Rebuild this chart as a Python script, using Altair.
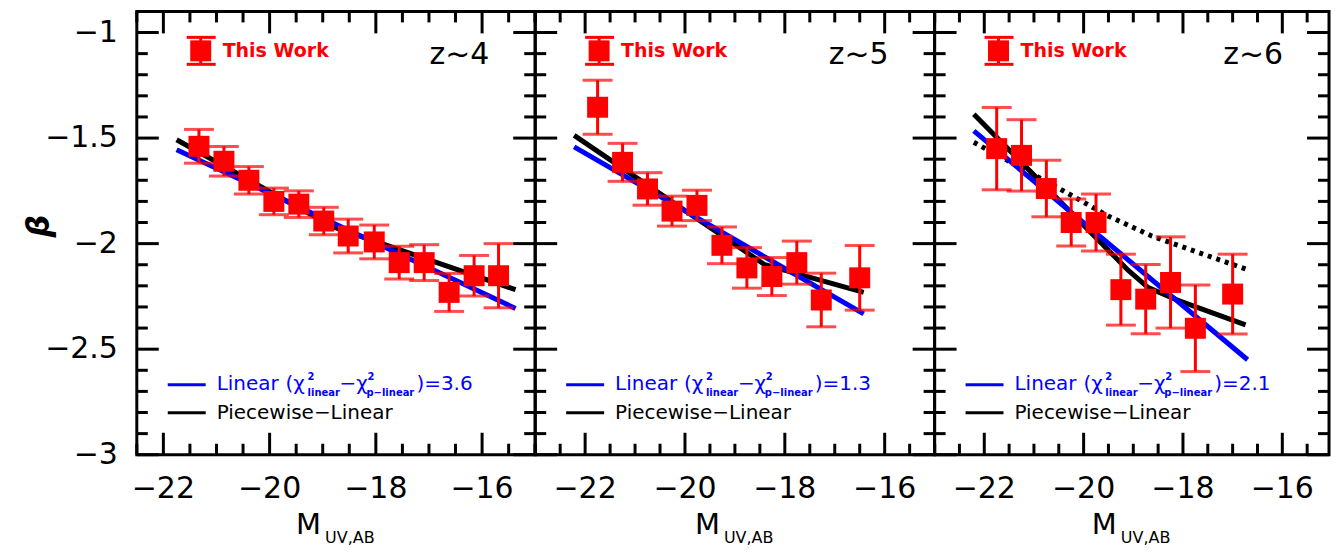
import altair as alt
import pandas as pd

# ---------------- data ----------------
# z~4
M4 = [-21.33, -20.86, -20.39, -19.92, -19.45, -18.98, -18.52, -18.03, -17.56, -17.09, -16.62, -16.15, -15.69]
B4 = [-1.539, -1.610, -1.700, -1.800, -1.813, -1.893, -1.964, -1.992, -2.090, -2.090, -2.231, -2.152, -2.152]
E4 = [0.080, 0.070, 0.065, 0.063, 0.063, 0.065, 0.080, 0.080, 0.078, 0.085, 0.090, 0.096, 0.152]
LIN4_M = [-21.75, -15.37]
LIN4_B = [-1.555, -2.307]
PW4_M = [-21.75, -18.80, -15.37]
PW4_B = [-1.508, -1.921, -2.218]

# z~5
M5 = [-21.75, -21.25, -20.75, -20.26, -19.76, -19.26, -18.76, -18.26, -17.76, -17.27, -16.50]
B5 = [-1.354, -1.615, -1.741, -1.846, -1.819, -2.008, -2.115, -2.156, -2.090, -2.267, -2.162]
E5 = [0.128, 0.090, 0.077, 0.071, 0.072, 0.087, 0.096, 0.090, 0.102, 0.127, 0.153]
LIN5_M = [-22.22, -16.42]
LIN5_B = [-1.542, -2.333]
PW5_M = [-22.22, -18.40, -16.42]
PW5_B = [-1.487, -2.100, -2.231]

# z~6
M6 = [-21.75, -21.25, -20.75, -20.25, -19.75, -19.25, -18.75, -18.25, -17.75, -17.00]
B6 = [-1.550, -1.582, -1.739, -1.900, -1.900, -2.218, -2.263, -2.184, -2.401, -2.239]
E6 = [0.195, 0.169, 0.134, 0.111, 0.135, 0.168, 0.164, 0.216, 0.205, 0.189]
LIN6_M = [-22.21, -16.70]
LIN6_B = [-1.466, -2.550]
PW6_M = [-22.21, -19.10, -18.70, -18.10, -16.74]
PW6_B = [-1.387, -2.127, -2.208, -2.269, -2.385]
DOT6_M = [-22.21, -21.30, -20.43, -19.50, -18.63, -17.70, -16.73]
DOT6_B = [-1.520, -1.636, -1.747, -1.870, -1.964, -2.041, -2.121]

Z_LABELS = ["z~4", "z~5", "z~6"]
CHI_VALUES = ["3.6", "1.3", "2.1"]
X_DOMAINS = [[-22.5, -15.0], [-23.0, -15.0], [-23.0, -15.06]]
X_MAJOR = [-22, -20, -18, -16]
X_LABELS = ["\u221222", "\u221220", "\u221218", "\u221216"]
X_MINOR = [-23.0, -22.5, -21.5, -21.0, -20.5, -19.5, -19.0, -18.5, -17.5, -17.0, -16.5,
           -15.5, -15.0]
Y_MAJOR = [-3.0, -2.5, -2.0, -1.5, -1.0]
Y_LABELS = ["\u22123", "\u22122.5", "\u22122", "\u22121.5", "\u22121"]
Y_MINOR = [-2.9, -2.8, -2.7, -2.6, -2.4, -2.3, -2.2, -2.1, -1.9, -1.8, -1.7, -1.6,
           -1.4, -1.3, -1.2, -1.1]
Y_DOMAIN = [-3.0, -0.9]

# ---------------- style ----------------
FONT = "DejaVu Sans"
RED = "#ff0000"
BLUE = "#0000ff"
H = 444
WIDTHS = [399, 400, 395]
MAJ = 22
MIN = 11

one = pd.DataFrame({"k": [0]})


def panel(i, M, B, E, lin, pw, dot, show_y):
    W = WIDTHS[i]
    xdom = X_DOMAINS[i]
    xs = alt.Scale(domain=xdom, nice=False, zero=False)
    ys = alt.Scale(domain=Y_DOMAIN, nice=False, zero=False)
    df = pd.DataFrame({"M": M, "B": B,
                       "lo": [b - e for b, e in zip(B, E)],
                       "hi": [b + e for b, e in zip(B, E)]})
    xminor = [v for v in X_MINOR if xdom[0] <= v <= xdom[1]]

    def X(field):
        return alt.X(field, type="quantitative", scale=xs, axis=None)

    def Y(field):
        return alt.Y(field, type="quantitative", scale=ys, axis=None)

    layers = []
    if dot is not None:
        ddf = pd.DataFrame({"M": dot[0], "B": dot[1]})
        layers.append(alt.Chart(ddf).mark_line(color="black", strokeWidth=5,
                                               strokeDash=[4, 5], strokeCap="butt")
                      .encode(x=X("M"), y=Y("B")))
    pdf = pd.DataFrame({"M": pw[0], "B": pw[1]})
    layers.append(alt.Chart(pdf).mark_line(color="black", strokeWidth=5)
                  .encode(x=X("M"), y=Y("B")))
    ldf = pd.DataFrame({"M": lin[0], "B": lin[1]})
    layers.append(alt.Chart(ldf).mark_line(color=BLUE, strokeWidth=5)
                  .encode(x=X("M"), y=Y("B")))
    # error bars
    layers.append(alt.Chart(df).mark_rule(color=RED, strokeWidth=3)
                  .encode(x=X("M"), y=Y("lo"), y2="hi"))
    layers.append(alt.Chart(df).mark_tick(color=RED, orient="horizontal", size=30, thickness=3)
                  .encode(x=X("M"), y=Y("hi")))
    layers.append(alt.Chart(df).mark_tick(color=RED, orient="horizontal", size=30, thickness=3)
                  .encode(x=X("M"), y=Y("lo")))
    layers.append(alt.Chart(df).mark_point(shape="square", size=441, filled=True,
                                           color=RED, opacity=1)
                  .encode(x=X("M"), y=Y("B")))

    # frame ticks (inward)
    xt_maj = pd.DataFrame({"v": X_MAJOR, "t": X_LABELS})
    xt_min = pd.DataFrame({"v": xminor})
    yt_maj = pd.DataFrame({"v": Y_MAJOR, "t": Y_LABELS})
    yt_min = pd.DataFrame({"v": Y_MINOR})
    for data, L in ((xt_maj, MAJ), (xt_min, MIN)):
        layers.append(alt.Chart(data).mark_rule(color="black", strokeWidth=3)
                      .encode(x=X("v"), y=alt.value(H), y2=alt.value(H - L)))
        layers.append(alt.Chart(data).mark_rule(color="black", strokeWidth=3)
                      .encode(x=X("v"), y=alt.value(0), y2=alt.value(L)))
    for data, L in ((yt_maj, MAJ), (yt_min, MIN)):
        layers.append(alt.Chart(data).mark_rule(color="black", strokeWidth=3)
                      .encode(y=Y("v"), x=alt.value(0), x2=alt.value(L)))
        layers.append(alt.Chart(data).mark_rule(color="black", strokeWidth=3)
                      .encode(y=Y("v"), x=alt.value(W), x2=alt.value(W - L)))

    # tick labels
    layers.append(alt.Chart(xt_maj).mark_text(color="black", font=FONT, fontSize=30,
                                              align="center", baseline="middle")
                  .encode(x=X("v"), y=alt.value(H + 34), text="t:N"))
    if show_y:
        layers.append(alt.Chart(yt_maj).mark_text(color="black", font=FONT, fontSize=30,
                                                  align="right", baseline="middle")
                      .encode(y=Y("v"), x=alt.value(-19), text="t:N"))
        layers.append(alt.Chart(one).mark_text(color="black", font=FONT, fontSize=32,
                                               fontStyle="italic", fontWeight="bold",
                                               angle=270, align="center", baseline="middle")
                      .encode(x=alt.value(-98), y=alt.value(215), text=alt.value("\u03b2")))

    # "This Work" legend
    layers.append(alt.Chart(one).mark_rule(color=RED, strokeWidth=3)
                  .encode(x=alt.value(64), y=alt.value(26), y2=alt.value(53)))
    layers.append(alt.Chart(one).mark_rule(color=RED, strokeWidth=3)
                  .encode(x=alt.value(50), x2=alt.value(79), y=alt.value(26)))
    layers.append(alt.Chart(one).mark_rule(color=RED, strokeWidth=3)
                  .encode(x=alt.value(50), x2=alt.value(79), y=alt.value(53)))
    layers.append(alt.Chart(one).mark_point(shape="square", size=441, filled=True,
                                            color=RED, opacity=1)
                  .encode(x=alt.value(64), y=alt.value(39.5)))
    layers.append(alt.Chart(one).mark_text(color=RED, font=FONT, fontSize=19,
                                           fontWeight="bold", align="left", baseline="middle")
                  .encode(x=alt.value(86), y=alt.value(39.5), text=alt.value("This Work")))
    # z label
    layers.append(alt.Chart(one).mark_text(color="black", font=FONT, fontSize=30,
                                           align="right", baseline="middle")
                  .encode(x=alt.value(W - 46), y=alt.value(44), text=alt.value(Z_LABELS[i])))

    # fit legend
    layers.append(alt.Chart(one).mark_rule(color=BLUE, strokeWidth=3)
                  .encode(x=alt.value(31), x2=alt.value(69), y=alt.value(374)))
    layers.append(alt.Chart(one).mark_rule(color="black", strokeWidth=3)
                  .encode(x=alt.value(31), x2=alt.value(69), y=alt.value(402)))
    pieces = [
        ("Linear", 80, 373, 20, "normal"),
        ("(\u03c7", 149, 373, 20, "normal"),
        ("2", 171, 366, 10, "bold"),
        ("linear", 171, 382, 10, "bold"),
        ("\u2212\u03c7", 203, 373, 20, "normal"),
        ("2", 231, 366, 10, "bold"),
        ("p\u2212linear", 230, 382, 10, "bold"),
        (")=" + CHI_VALUES[i], 280, 373, 20, "normal"),
    ]
    for txt, px, py, fs, fw in pieces:
        layers.append(alt.Chart(one).mark_text(color=BLUE, font=FONT, fontSize=fs,
                                               fontWeight=fw, align="left", baseline="middle")
                      .encode(x=alt.value(px), y=alt.value(py), text=alt.value(txt)))
    layers.append(alt.Chart(one).mark_text(color="black", font=FONT, fontSize=20,
                                           align="left", baseline="middle")
                  .encode(x=alt.value(80), y=alt.value(402),
                          text=alt.value("Piecewise\u2212Linear")))

    # x-axis title M_UV,AB
    layers.append(alt.Chart(one).mark_text(color="black", font=FONT, fontSize=29,
                                           align="left", baseline="middle")
                  .encode(x=alt.value(W / 2 - 40), y=alt.value(H + 70), text=alt.value("M")))
    layers.append(alt.Chart(one).mark_text(color="black", font=FONT, fontSize=16,
                                           align="left", baseline="middle")
                  .encode(x=alt.value(W / 2 - 11), y=alt.value(H + 83), text=alt.value("UV,AB")))

    return alt.layer(*layers).properties(width=W, height=H)


p1 = panel(0, M4, B4, E4, (LIN4_M, LIN4_B), (PW4_M, PW4_B), None, True)
p2 = panel(1, M5, B5, E5, (LIN5_M, LIN5_B), (PW5_M, PW5_B), None, False)
p3 = panel(2, M6, B6, E6, (LIN6_M, LIN6_B), (PW6_M, PW6_B), (DOT6_M, DOT6_B), False)

chart = (alt.hconcat(p1, p2, p3, spacing=0, bounds="flush")
         .properties(padding={"left": 13, "top": 0, "right": 0, "bottom": 0},
                     background="white")
         .configure_view(stroke="black", strokeWidth=3))

chart.save("out.html", embed_options={"renderer": "svg", "actions": False})
